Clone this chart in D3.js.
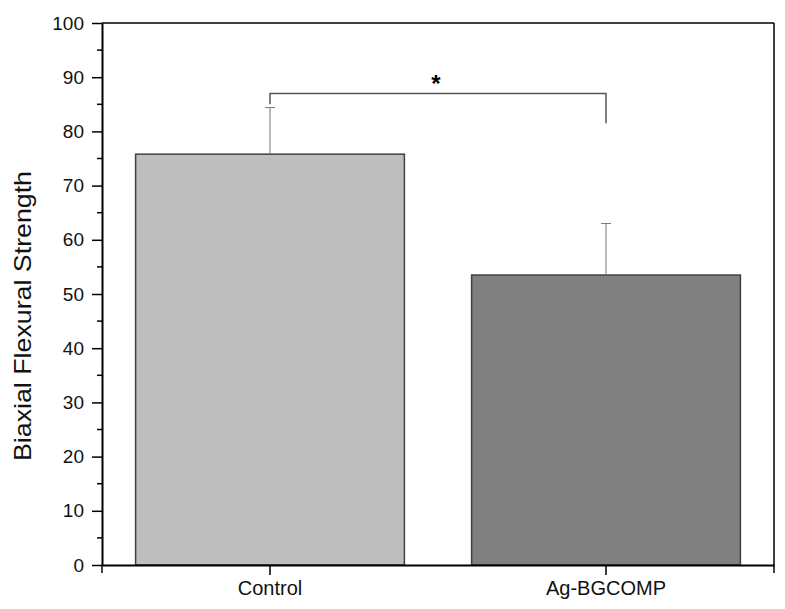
<!DOCTYPE html>
<html><head><meta charset="utf-8">
<script src="https://cdn.jsdelivr.net/npm/d3@7"></script>
<style>body{margin:0;background:#fff}svg{display:block}text{font-family:Arial,"Liberation Sans",sans-serif}</style>
</head><body><svg id="c" width="785" height="609"></svg>
<script>
const categories = ["Control", "Ag-BGCOMP"];
const means = [75.8, 53.5];
const errors = [8.6, 9.5];
const fills = ["#bebebe", "#808080"];
const yTicks = [0,10,20,30,40,50,60,70,80,90,100];
const sig = {from: "Control", to: "Ag-BGCOMP", y: 87, leftEnd: 85, rightEnd: 81.5, label: "*"};

const svg = d3.select("#c");
const L = 102, R = 774, T = 23, B = 565;
const x = d3.scaleBand().domain(categories).range([L, R]).paddingInner(0.2).paddingOuter(0.1);
const y = d3.scaleLinear().domain([0, 100]).range([B, T]);

// bars
svg.selectAll("rect.bar").data(categories).enter().append("rect")
  .attr("x", d => x(d)).attr("width", x.bandwidth())
  .attr("y", (d,i) => y(means[i])).attr("height", (d,i) => B - y(means[i]))
  .attr("fill", (d,i) => fills[i]).attr("stroke", "#404040").attr("stroke-width", 1.5);

// error bars (upper only)
categories.forEach((c,i) => {
  const cx = x(c) + x.bandwidth()/2;
  svg.append("line").attr("x1", cx).attr("x2", cx).attr("y1", y(means[i])).attr("y2", y(means[i]+errors[i]))
    .attr("stroke", "#777").attr("stroke-width", 1);
  svg.append("line").attr("x1", cx-5).attr("x2", cx+5).attr("y1", y(means[i]+errors[i])).attr("y2", y(means[i]+errors[i]))
    .attr("stroke", "#777").attr("stroke-width", 1);
});

// significance bracket
const bx1 = x(sig.from) + x.bandwidth()/2, bx2 = x(sig.to) + x.bandwidth()/2;
svg.append("path")
  .attr("d", `M${bx1},${y(sig.leftEnd)}V${y(sig.y)}H${bx2}V${y(sig.rightEnd)}`)
  .attr("fill", "none").attr("stroke", "#555").attr("stroke-width", 1.5);
svg.append("text").attr("x", (bx1+bx2)/2 - 2).attr("y", y(sig.y) - 1)
  .attr("text-anchor", "middle").attr("font-size", 24).attr("font-weight", "bold").text(sig.label);

// frame top/right
svg.append("line").attr("x1", L).attr("x2", R).attr("y1", T).attr("y2", T).attr("stroke", "#000").attr("stroke-width", 1.5);
svg.append("line").attr("x1", R).attr("x2", R).attr("y1", T).attr("y2", B).attr("stroke", "#000").attr("stroke-width", 1.5);

// y axis
const yAxis = d3.axisLeft(y).tickValues(yTicks).tickSize(10).tickPadding(8).tickSizeOuter(0);
const gy = svg.append("g").attr("transform", `translate(${L},0)`).call(yAxis);
gy.attr("font-size", null).attr("font-family", null);
gy.select(".domain").attr("stroke-width", 2);
gy.selectAll(".tick line").attr("stroke-width", 1.5);
gy.selectAll("text").style("font-size", "19px").attr("fill", "#111");
const minor = d3.range(5, 100, 10);
svg.append("g").selectAll("line").data(minor).enter().append("line")
  .attr("x1", L-5).attr("x2", L).attr("y1", d => y(d)).attr("y2", d => y(d))
  .attr("stroke", "#000").attr("stroke-width", 1.5);

// x axis
const xAxis = d3.axisBottom(x).tickSize(10).tickPadding(6).tickSizeOuter(0);
const gx = svg.append("g").attr("transform", `translate(0,${B})`).call(xAxis);
gx.attr("font-size", null).attr("font-family", null);
gx.select(".domain").attr("stroke-width", 2);
gx.selectAll(".tick line").attr("stroke-width", 1.5);
gx.selectAll("text").style("font-size", "20px").attr("fill", "#111");
// outer end ticks on x axis
[L, R].forEach(px => svg.append("line").attr("x1", px).attr("x2", px).attr("y1", B).attr("y2", B+8).attr("stroke", "#000").attr("stroke-width", 1.5));

// y title
svg.append("text").attr("transform", `translate(31,316) rotate(-90)`)
  .attr("text-anchor", "middle").style("font-size", "24px").attr("fill", "#111")
  .attr("textLength", 290).attr("lengthAdjust", "spacingAndGlyphs")
  .text("Biaxial Flexural Strength");
</script></body></html>
